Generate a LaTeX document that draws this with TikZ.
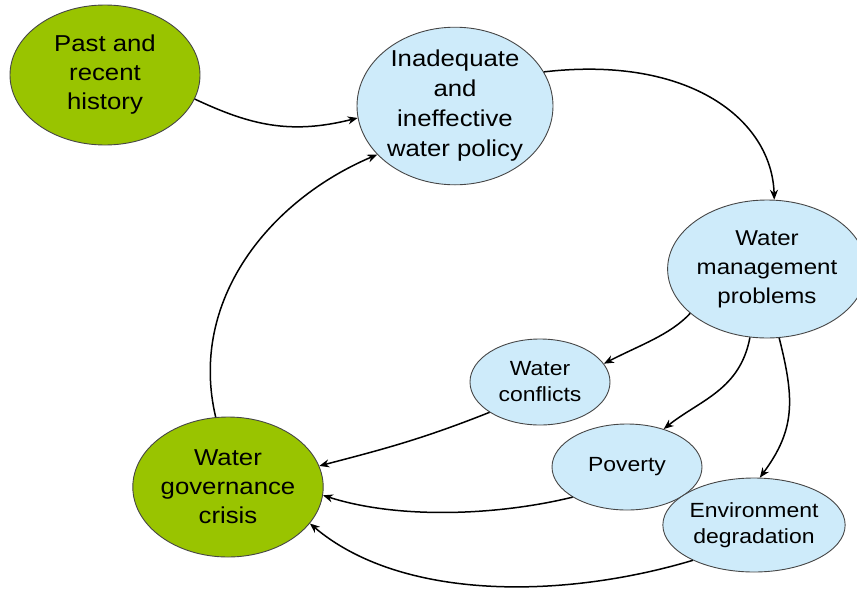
\documentclass[tikz,border=0pt]{standalone}
\usepackage{fontspec}
\setmainfont{Liberation Sans}[FakeStretch=1.12]
\usetikzlibrary{shapes.geometric,arrows.meta}
\definecolor{leaf}{RGB}{153,196,0}
\definecolor{sky}{RGB}{206,235,250}
\definecolor{rim}{RGB}{70,70,70}
\begin{document}
\begin{tikzpicture}[x=1pt,y=-1pt,
  bubble/.style={ellipse,draw=rim,line width=0.9pt,inner sep=0pt,align=center,text=black},
  greenbubble/.style={bubble,fill=leaf,font=\fontsize{23}{29}\selectfont},
  bluebubble/.style={bubble,fill=sky},
  bigtext/.style={font=\fontsize{23}{30}\selectfont},
  midtext/.style={font=\fontsize{21.5}{29}\selectfont},
  smalltext/.style={font=\fontsize{20.5}{26}\selectfont},
  link/.style={line width=1.5pt,-{Stealth[length=10pt,width=8pt]}}]
\useasboundingbox (0,0) rectangle (857,592);

\node[greenbubble,minimum width=190pt,minimum height=140pt] (past) at (105,75) {Past and\\recent\\history};
\node[bluebubble,bigtext,minimum width=196pt,minimum height=154pt] (policy) at (455,106) {Inadequate\\and\\ineffective\\water policy};
\node[bluebubble,midtext,minimum width=180pt,minimum height=138pt] (wmp) at (767,269) {Water\\management\\problems};
\node[bluebubble,smalltext,minimum width=140pt,minimum height=86pt] (conf) at (540,382) {Water\\conflicts};
\node[bluebubble,smalltext,minimum width=150pt,minimum height=86pt] (pov) at (627,467) {Poverty};
\node[bluebubble,smalltext,minimum width=157pt,minimum height=94pt] (env) at (754,525) {Environment\\degradation};
\node[greenbubble,minimum width=190pt,minimum height=140pt] (gov) at (228,487) {Water\\governance\\crisis};

\draw[link] (past.-15) .. controls (250,125) and (290,135) .. (policy.187);
\draw[link] (gov.100) .. controls (188,300) and (270,200) .. (policy.212);
\draw[link] (policy.21) .. controls (690,55) and (772,120) .. (wmp.84);
\draw[link] (wmp.210) .. controls (670,335) and (640,345) .. (conf.16);
\draw[link] (wmp.256) .. controls (740,390) and (700,400) .. (pov.46);
\draw[link] (wmp.280) .. controls (795,400) and (795,430) .. (env.83);
\draw[link] (conf.211) .. controls (420,440) and (380,450) .. (gov.13);
\draw[link] (pov.209) .. controls (500,515) and (400,520) .. (gov.-5);
\draw[link] (env.210) .. controls (560,600) and (400,600) .. (gov.-24);
\end{tikzpicture}
\end{document}
